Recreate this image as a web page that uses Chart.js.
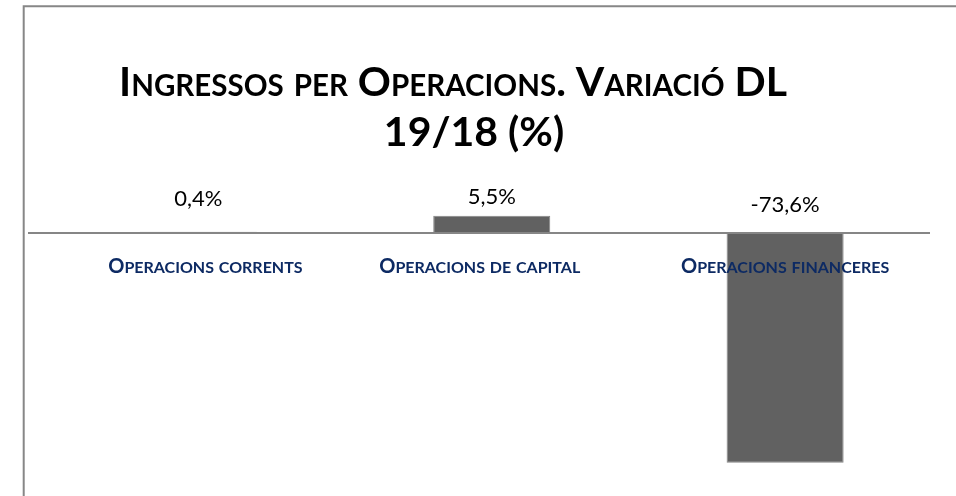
<!DOCTYPE html>
<html><head><meta charset="utf-8">
<script src="https://cdn.jsdelivr.net/npm/chart.js@4/dist/chart.umd.min.js"></script>
<style>html,body{margin:0;padding:0;background:#fff;}#wrap{width:956px;height:496px;position:relative}</style>
</head><body><div id="wrap"><canvas id="c" width="956" height="496"></canvas></div>
<script>
// ---- data ----
const categories = ['Operacions corrents', 'Operacions de capital', 'Operacions financeres'];
const values = [0.4, 5.5, -73.6];
const valueLabels = ['0,4%', '5,5%', '-73,6%'];
const titleLines = ['Ingressos per Operacions. Variació DL', '19/18 (%)'];

// ---- style ----
const FONT = 'Lato, "Open Sans", sans-serif';
const labelLift = [27, 29, 21];      // px above zero line (baseline)
const catShift = [7, -12, 0];        // horizontal nudge of category labels
const catDrop = 40;                  // baseline below zero line
const titleX = [453, 474];
const titleY = [96, 146];

// draw text in small capitals: lowercase letters drawn as capitals at a reduced size
function smallCaps(ctx, text, cx, y, size, ratio, weight) {
  const runs = [];
  for (const ch of text) {
    const low = ch !== ch.toUpperCase();
    const s = low ? size * ratio : size;
    const c = low ? ch.toUpperCase() : ch;
    if (runs.length && runs[runs.length - 1].s === s) runs[runs.length - 1].t += c;
    else runs.push({ s, t: c });
  }
  let total = 0;
  runs.forEach(r => { ctx.font = weight + ' ' + r.s + 'px ' + FONT; r.w = ctx.measureText(r.t).width; total += r.w; });
  let x = cx - total / 2;
  ctx.textAlign = 'left';
  ctx.textBaseline = 'alphabetic';
  runs.forEach(r => { ctx.font = weight + ' ' + r.s + 'px ' + FONT; ctx.fillText(r.t, x, y); x += r.w; });
}

const deco = {
  id: 'deco',
  beforeDraw(chart) {
    const ctx = chart.ctx;
    ctx.save();
    ctx.strokeStyle = '#878787';
    ctx.lineWidth = 2;
    ctx.beginPath();
    ctx.moveTo(23.7, 496); ctx.lineTo(23.7, 6.3); ctx.lineTo(956, 6.3);
    ctx.stroke();
    ctx.fillStyle = '#000';
    titleLines.forEach((t, i) => smallCaps(ctx, t, titleX[i], titleY[i], 41, 0.72, 'bold'));
    ctx.restore();
  },
  afterDatasetsDraw(chart) {
    const xs = chart.scales.x, ys = chart.scales.y, ctx = chart.ctx;
    const y0 = ys.getPixelForValue(0);
    ctx.save();
    ctx.strokeStyle = '#868686';
    ctx.lineWidth = 2;
    ctx.beginPath(); ctx.moveTo(28, y0); ctx.lineTo(930, y0); ctx.stroke();
    ctx.textAlign = 'center';
    ctx.textBaseline = 'alphabetic';
    ctx.fillStyle = '#000';
    ctx.font = '22px ' + FONT;
    valueLabels.forEach((t, i) => {
      ctx.fillText(t, xs.getPixelForValue(i), y0 - labelLift[i]);
    });
    ctx.fillStyle = '#0d2a63';
    categories.forEach((t, i) => {
      smallCaps(ctx, t, xs.getPixelForValue(i) + catShift[i], y0 + catDrop, 20, 0.8, 'bold');
    });
    ctx.restore();
  }
};

new Chart(document.getElementById('c'), {
  type: 'bar',
  data: {
    labels: categories,
    datasets: [{
      data: values,
      backgroundColor: '#616161',
      borderColor: '#858585',
      borderWidth: 1,
      barPercentage: 0.399,
      categoryPercentage: 1
    }]
  },
  options: {
    responsive: false,
    animation: false,
    layout: { padding: { left: 51.7, right: 24.2, top: 201.8, bottom: 13.4 } },
    scales: {
      x: { display: false },
      y: { display: false, min: -80, max: 10 }
    },
    plugins: { legend: { display: false }, tooltip: { enabled: false }, title: { display: false } }
  },
  plugins: [deco]
});
</script>
</body></html>
